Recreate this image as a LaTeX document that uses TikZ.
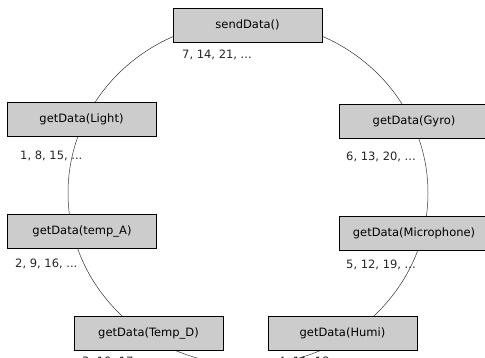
\documentclass[tikz,border=0pt]{standalone}
\usepackage{fontspec}
\setmainfont{DejaVu Sans}
\usepackage{tikz}
\tikzset{task/.style={draw=black, line width=0.8pt, fill=gray!40, minimum width=149pt, minimum height=34pt, inner sep=0pt, font=\fontsize{11.5}{13}\selectfont},
  order/.style={anchor=west, inner sep=0pt, font=\fontsize{11.5}{13}\selectfont, text=black!85}}

\begin{document}
\begin{tikzpicture}[x=1pt,y=-1pt]
    \useasboundingbox (0,0) rectangle (485,358);
    \clip (0,0) rectangle (485,358);
    \coordinate (ring) at (248,193);
    \draw[black!80, line width=0.5pt] (ring) ellipse [x radius=180pt, y radius=172pt];
    \node[task] (send) at (247.5,25) {sendData()};
    \node[task] (light) at (81.5,119) {getData(Light)};
    \node[task] (gyro) at (414,121.5) {getData(Gyro)};
    \node[task] (tempA) at (82,231.5) {getData(temp\_A)};
    \node[task] (mic) at (414,233) {getData(Microphone)};
    \node[task] (tempD) at (148.5,333) {getData(Temp\_D)};
    \node[task] (humi) at (342.5,333.5) {getData(Humi)};
    \node[order] (nsend) at (182,55) {7, 14, 21, ...};
    \node[order] (nlight) at (20,156) {1, 8, 15, ...};
    \node[order] (ngyro) at (346,157) {6, 13, 20, ...};
    \node[order] (ntempA) at (15,264) {2, 9, 16, ...};
    \node[order] (nmic) at (346,265) {5, 12, 19, ...};
    \node[order] (ntempD) at (82,362) {3, 10, 17, ...};
    \node[order] (nhumi) at (278,362) {4, 11, 18, ...};
  \end{tikzpicture}
\end{document}
